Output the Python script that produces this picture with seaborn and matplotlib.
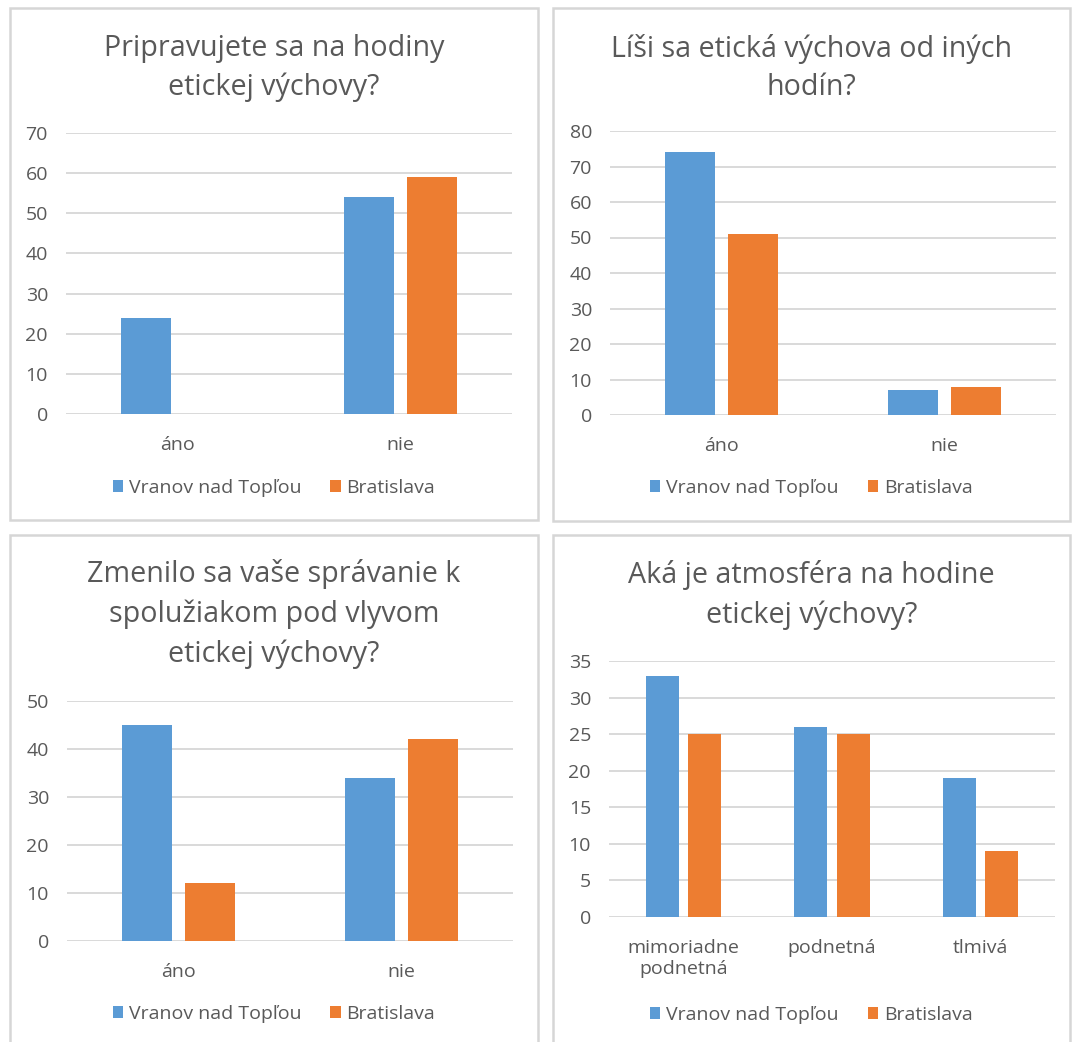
import matplotlib
matplotlib.use("Agg")
import matplotlib.pyplot as plt
from matplotlib.patches import Rectangle, Patch
import pandas as pd
import seaborn as sns

# ---- data -------------------------------------------------------------
series_names = ["Vranov nad Topľou", "Bratislava"]
series_colors = ["#5B9BD5", "#ED7D31"]

q1_title = "Pripravujete sa na hodiny\netickej výchovy?"
q1_categories = ["áno", "nie"]
q1_vranov = [24, 54]
q1_bratislava = [0, 59]
q1_ticks = [0, 10, 20, 30, 40, 50, 60, 70]

q2_title = "Líši sa etická výchova od iných\nhodín?"
q2_categories = ["áno", "nie"]
q2_vranov = [74, 7]
q2_bratislava = [51, 8]
q2_ticks = [0, 10, 20, 30, 40, 50, 60, 70, 80]

q3_title = "Zmenilo sa vaše správanie k\nspolužiakom pod vlyvom\netickej výchovy?"
q3_categories = ["áno", "nie"]
q3_vranov = [45, 34]
q3_bratislava = [12, 42]
q3_ticks = [0, 10, 20, 30, 40, 50]

q4_title = "Aká je atmosféra na hodine\netickej výchovy?"
q4_categories = ["mimoriadne\npodnetná", "podnetná", "tlmivá"]
q4_vranov = [33, 26, 19]
q4_bratislava = [25, 25, 9]
q4_ticks = [0, 5, 10, 15, 20, 25, 30, 35]

# ---- style ------------------------------------------------------------
W, H = 1072, 1042
TEXT = "#595959"
GRID = "#D9D9D9"

sns.set_theme(style="white")
plt.rcParams["font.family"] = ["Open Sans", "DejaVu Sans"]

fig = plt.figure(figsize=(W / 100, H / 100), dpi=100)
fig.patch.set_facecolor("white")


def fx(px):
    return px / W


def fy(py):
    return 1 - py / H


def panel(left, top, right, bottom):
    fig.patches.append(Rectangle((fx(left), fy(bottom)), fx(right - left),
                                 (bottom - top) / H, transform=fig.transFigure,
                                 fill=False, edgecolor="#D6D6D6", linewidth=1.8,
                                 zorder=0))


def chart(box, plot, title, title_y, cats, vranov, bratislava, ticks, legend_y):
    pl, pt, pr, pb = box
    panel(pl, pt, pr, pb)
    cx = (pl + pr) / 2

    l, t, r, b = plot
    ax = fig.add_axes([fx(l), fy(b), fx(r - l), (b - t) / H])

    df = pd.DataFrame({
        "kategória": cats * 2,
        "mesto": [series_names[0]] * len(cats) + [series_names[1]] * len(cats),
        "počet": list(vranov) + list(bratislava),
    })
    sns.barplot(data=df, x="kategória", y="počet", hue="mesto",
                palette=series_colors, hue_order=series_names, order=cats,
                width=0.57, gap=0.22, saturation=1, errorbar=None,
                legend=False, linewidth=0, ax=ax, zorder=3)

    ax.set_xlim(-0.5, len(cats) - 0.5)
    ax.set_ylim(ticks[0], ticks[-1])
    ax.set_yticks(ticks)
    ax.set_xlabel("")
    ax.set_ylabel("")
    ax.yaxis.grid(True, color=GRID, linewidth=1.4, zorder=0)
    ax.xaxis.grid(False)
    ax.set_axisbelow(True)
    for s in ax.spines.values():
        s.set_visible(False)
    ax.tick_params(axis="y", length=0, pad=13, labelsize=14, labelcolor=TEXT)
    ax.tick_params(axis="x", length=0, pad=16, labelsize=14, labelcolor=TEXT)
    for lab in ax.get_xticklabels():
        lab.set_linespacing(1.2)
    ax.set_facecolor("none")

    fig.text(fx(cx), fy(title_y), title, ha="center", va="center",
             fontsize=20.6, color=TEXT, linespacing=1.45)

    handles = [Patch(facecolor=c, edgecolor="none") for c in series_colors]
    fig.legend(handles, series_names, loc="center", ncol=2, frameon=False,
               bbox_to_anchor=(fx(cx), fy(legend_y)), bbox_transform=fig.transFigure,
               fontsize=14, labelcolor=TEXT, handlelength=0.52, handleheight=0.52,
               handletextpad=0.3, columnspacing=1.5)


chart((10, 8, 538, 520), (66, 133, 512, 414), q1_title, 68,
      q1_categories, q1_vranov, q1_bratislava, q1_ticks, 488)
chart((553, 8, 1070, 521), (610, 131, 1056, 415), q2_title, 68,
      q2_categories, q2_vranov, q2_bratislava, q2_ticks, 488)
chart((10, 535, 538, 1046), (67, 701, 513, 941), q3_title, 614,
      q3_categories, q3_vranov, q3_bratislava, q3_ticks, 1014)
chart((553, 535, 1070, 1046), (609, 661, 1055, 917), q4_title, 595,
      q4_categories, q4_vranov, q4_bratislava, q4_ticks, 1015)

fig.savefig("out.png", dpi=100, facecolor="white")
